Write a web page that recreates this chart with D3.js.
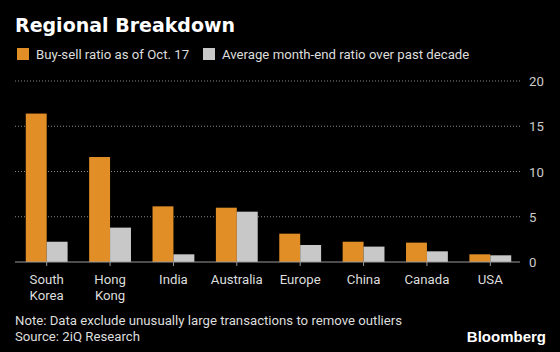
<!DOCTYPE html>
<html>
<head>
  <script src="https://cdn.jsdelivr.net/npm/d3@7"></script>
  <style>
    body { margin: 0; background: #000; }
    text { font-family: "Roboto", sans-serif; }
  </style>
</head>
<body>
  <div id="chart"></div>
  <script>
    const categories = ["South Korea", "Hong Kong", "India", "Australia", "Europe", "China", "Canada", "USA"];
    const buySell = [16.4, 11.6, 6.15, 6.0, 3.13, 2.24, 2.14, 0.85];
    const monthEndAvg = [2.24, 3.8, 0.85, 5.56, 1.88, 1.7, 1.18, 0.74];
    const yTicks = [0, 5, 10, 15, 20];
    const seriesNames = ["Buy-sell ratio as of Oct. 17", "Average month-end ratio over past decade"];
    const colors = ["#e28e27", "#c8c8c8"];

    const width = 560, height = 352;
    const svg = d3.select("#chart").append("svg")
      .attr("width", width).attr("height", height);
    svg.append("rect").attr("width", width).attr("height", height).attr("fill", "#000");

    svg.append("text").attr("x", 15).attr("y", 32)
      .attr("fill", "#fff").attr("font-size", 19).attr("font-weight", "bold")
      .style("font-family", "'DejaVu Sans', sans-serif")
      .text("Regional Breakdown");

    // legend
    const legX = [17, 203];
    seriesNames.forEach((name, i) => {
      svg.append("rect").attr("x", legX[i]).attr("y", 48).attr("width", 12).attr("height", 12)
        .attr("fill", colors[i]);
      svg.append("text").attr("x", legX[i] + 19).attr("y", 59)
        .attr("fill", "#ddd").attr("font-size", 13.2).text(name);
    });

    const x = d3.scaleBand().domain(categories).range([15, 522]).paddingInner(0.34).paddingOuter(0.17);
    const y = d3.scaleLinear().domain([0, 20]).range([262, 81]);

    // gridlines
    svg.append("g").selectAll("line").data(yTicks.filter(d => d > 0)).join("line")
      .attr("x1", 15).attr("x2", 520)
      .attr("y1", d => y(d)).attr("y2", d => y(d))
      .attr("stroke", "#888").attr("stroke-width", 1).attr("stroke-dasharray", "1,2");

    svg.append("g").selectAll("text").data(yTicks).join("text")
      .attr("x", 529).attr("y", d => y(d) + 5)
      .attr("fill", "#ccc").attr("font-size", 13.2).text(d => d);

    const bw = x.bandwidth() / 2;
    const g = svg.append("g");
    g.selectAll(".a").data(categories).join("rect")
      .attr("x", d => x(d)).attr("width", bw)
      .attr("y", (d, i) => y(buySell[i])).attr("height", (d, i) => y(0) - y(buySell[i]))
      .attr("fill", colors[0]);
    g.selectAll(".b").data(categories).join("rect")
      .attr("x", d => x(d) + bw).attr("width", bw)
      .attr("y", (d, i) => y(monthEndAvg[i])).attr("height", (d, i) => y(0) - y(monthEndAvg[i]))
      .attr("fill", colors[1]);

    // baseline and ticks
    svg.append("line").attr("x1", 15).attr("x2", 520).attr("y1", y(0)).attr("y2", y(0))
      .attr("stroke", "#999").attr("stroke-width", 1);
    svg.append("g").selectAll("line").data(categories).join("line")
      .attr("x1", d => x(d) + x.bandwidth() / 2).attr("x2", d => x(d) + x.bandwidth() / 2)
      .attr("y1", y(0)).attr("y2", y(0) + 4)
      .attr("stroke", "#999");

    const labels = svg.append("g").selectAll("text").data(categories).join("text")
      .attr("x", d => x(d) + x.bandwidth() / 2).attr("y", 284)
      .attr("text-anchor", "middle").attr("fill", "#ddd").attr("font-size", 13.2);
    labels.each(function (d) {
      const words = d.split(" ");
      words.forEach((w, i) => {
        d3.select(this).append("tspan").attr("x", x(d) + x.bandwidth() / 2)
          .attr("dy", i === 0 ? 0 : 16).text(w);
      });
    });

    svg.append("text").attr("x", 15).attr("y", 325).attr("fill", "#ddd").attr("font-size", 13.2)
      .text("Note: Data exclude unusually large transactions to remove outliers");
    svg.append("text").attr("x", 15).attr("y", 341).attr("fill", "#ddd").attr("font-size", 13.2)
      .text("Source: 2iQ Research");
    svg.append("text").attr("x", 546).attr("y", 342).attr("text-anchor", "end")
      .attr("fill", "#fff").attr("font-size", 15).attr("font-weight", "bold")
      .style("font-family", "'Liberation Sans', Arial, sans-serif")
      .text("Bloomberg");
  </script>
</body>
</html>
